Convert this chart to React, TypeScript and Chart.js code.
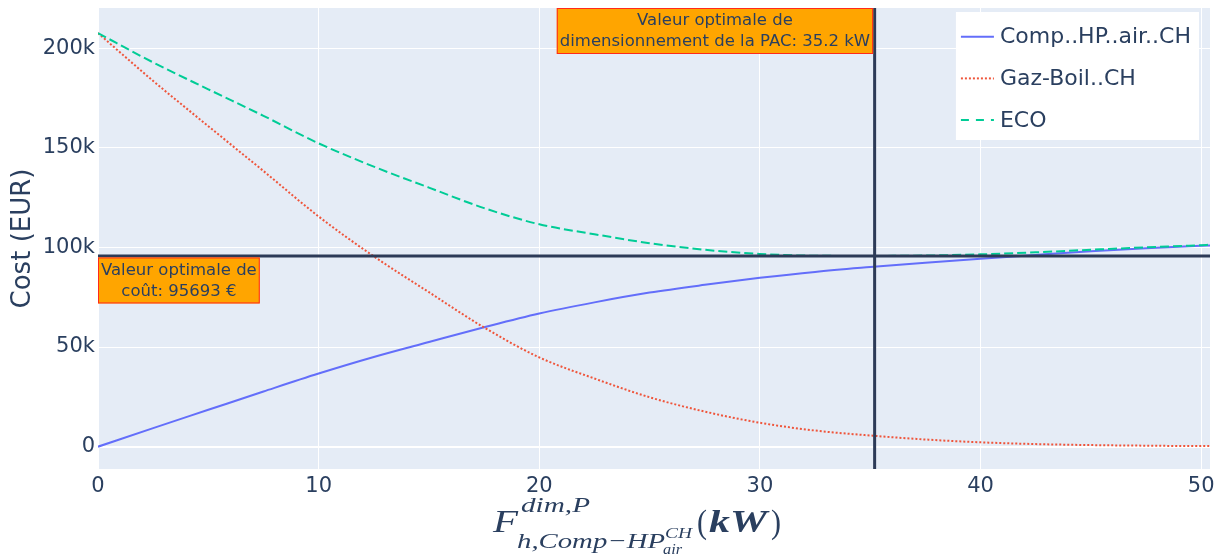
import React, { useEffect, useRef } from 'react';
import { Chart, registerables } from 'chart.js';

Chart.register(...registerables);

// ---- data ----
const xValues = [0, 2.5, 5, 7.5, 10, 12.5, 15, 17.5, 20, 22.5, 25, 27.5, 30, 32.5, 35, 37.5, 40, 42.5, 45, 47.5, 50, 50.4];
const compHP = [0, 9300, 18500, 27700, 36700, 45000, 52500, 59900, 66800, 72400, 77300, 81200, 84700, 87700, 90100, 92300, 94300, 96200, 98000, 99500, 100800, 101000];
const gazBoil = [207500, 183500, 160800, 138300, 115500, 95500, 77500, 59800, 44800, 34200, 24800, 17600, 12000, 8100, 5600, 3600, 2200, 1300, 800, 500, 300, 300];
const eco = [207500, 192800, 179300, 166000, 152200, 140500, 130000, 119700, 111600, 106600, 102100, 98800, 96700, 95800, 95700, 95900, 96500, 97500, 98800, 100000, 101100, 101300];
const seriesNames = ['Comp..HP..air..CH', 'Gaz-Boil..CH', 'ECO'];
const seriesColors = ['#636efa', '#EF553B', '#00cc96'];
const xTicks = [0, 10, 20, 30, 40, 50];
const yTicks = [0, 50000, 100000, 150000, 200000];
const optimalSize = 35.2;
const optimalCost = 95693;
const sizeNote = ['Valeur optimale de', 'dimensionnement de la PAC: 35.2 kW'];
const costNote = ['Valeur optimale de', 'coût: 95693 €'];

const TEXT = '#2a3f5f';
const SHAPE = '#2c3a57';
const SANS = '"DejaVu Sans", Verdana, sans-serif';
const SERIF = '"Liberation Serif", "DejaVu Serif", serif';

function drawNote(ctx: CanvasRenderingContext2D, lines: string[], x: number, y: number, anchorRight: boolean) {
  ctx.save();
  ctx.font = `16.5px ${SANS}`;
  const lh = 21;
  const pad = 2;
  const tw = Math.max(...lines.map((l) => ctx.measureText(l).width));
  const w = tw + pad * 2 + 2;
  const h = lines.length * lh + pad * 2;
  const left = anchorRight ? x - w : x;
  ctx.fillStyle = '#FFA500';
  ctx.fillRect(left, y, w, h);
  ctx.strokeStyle = '#ff2a1a';
  ctx.lineWidth = 1;
  ctx.strokeRect(left + 0.5, y + 0.5, w - 1, h - 1);
  ctx.fillStyle = TEXT;
  ctx.textAlign = 'center';
  ctx.textBaseline = 'middle';
  lines.forEach((l, i) => ctx.fillText(l, left + w / 2, y + pad + lh * i + lh / 2 + 0.5));
  ctx.restore();
}

function drawFitted(ctx: CanvasRenderingContext2D, t: string, x: number, w: number, base: number, font: string) {
  ctx.save();
  ctx.font = font;
  const m = ctx.measureText(t).width;
  ctx.translate(x, base);
  ctx.scale(w / m, 1);
  ctx.fillText(t, 0, 0);
  ctx.restore();
}

const overlayPlugin = {
  id: 'overlay',
  beforeDraw(chart: any) {
    const { ctx, chartArea: a } = chart;
    ctx.save();
    ctx.fillStyle = '#E5ECF6';
    ctx.fillRect(a.left, a.top, a.right - a.left, a.bottom - a.top);
    ctx.restore();
  },
  afterDatasetsDraw(chart: any) {
    const { ctx, chartArea: a, scales } = chart;
    const xp = scales.x.getPixelForValue(optimalSize);
    const yp = scales.y.getPixelForValue(optimalCost);
    ctx.save();
    ctx.strokeStyle = SHAPE;
    ctx.lineWidth = 3;
    ctx.beginPath();
    ctx.moveTo(xp, a.top);
    ctx.lineTo(xp, a.bottom);
    ctx.moveTo(a.left, yp);
    ctx.lineTo(a.right, yp);
    ctx.stroke();
    ctx.restore();

    drawNote(ctx, sizeNote, xp - 1.5, a.top, true);
    drawNote(ctx, costNote, a.left, yp + 1.5, false);

    // legend
    ctx.save();
    ctx.font = `22px ${SANS}`;
    const tw = Math.max(...seriesNames.map((s) => ctx.measureText(s).width));
    const bw = 44 + tw + 8;
    const bx = a.right - 11 - bw;
    const by = a.top + 4;
    ctx.fillStyle = '#ffffff';
    ctx.fillRect(bx, by, bw, 128);
    const dashes = [[], [2, 2], [8, 7]];
    seriesNames.forEach((s, i) => {
      const cy = by + 24.7 + i * 41.7;
      ctx.strokeStyle = seriesColors[i];
      ctx.lineWidth = 2;
      ctx.setLineDash(dashes[i]);
      ctx.beginPath();
      ctx.moveTo(bx + 5, cy);
      ctx.lineTo(bx + 38, cy);
      ctx.stroke();
      ctx.setLineDash([]);
      ctx.fillStyle = TEXT;
      ctx.textAlign = 'left';
      ctx.textBaseline = 'middle';
      ctx.fillText(s, bx + 44, cy + 1);
    });
    ctx.restore();
  },
  afterDraw(chart: any) {
    const { ctx } = chart;
    ctx.save();
    ctx.fillStyle = TEXT;
    ctx.textBaseline = 'alphabetic';
    drawFitted(ctx, 'F', 493, 25, 531.7, `italic 32px ${SERIF}`);
    drawFitted(ctx, 'dim,P', 521, 69, 511.7, `italic 22px ${SERIF}`);
    drawFitted(ctx, 'h,Comp\u2212HP', 517, 148, 547.7, `italic 22px ${SERIF}`);
    drawFitted(ctx, 'CH', 665, 27, 537.7, `italic 15px ${SERIF}`);
    drawFitted(ctx, 'air', 663, 19, 553.5, `italic 15px ${SERIF}`);
    drawFitted(ctx, '(', 697, 10, 533, `33px ${SERIF}`);
    drawFitted(ctx, 'kW', 709, 58, 531.7, `italic bold 31px ${SERIF}`);
    drawFitted(ctx, ')', 771, 10, 533, `33px ${SERIF}`);
    ctx.restore();
  },
};

export default function App() {
  const ref = useRef<HTMLCanvasElement>(null);
  useEffect(() => {
    if (!ref.current) return;
    const mk = (vals: number[]) => xValues.map((x, i) => ({ x, y: vals[i] }));
    const chart = new Chart(ref.current, {
      type: 'line',
      data: {
        datasets: [
          { label: seriesNames[0], data: mk(compHP), borderColor: seriesColors[0], borderWidth: 2, pointRadius: 0, cubicInterpolationMode: 'monotone', order: 3 },
          { label: seriesNames[1], data: mk(gazBoil), borderColor: seriesColors[1], borderWidth: 2, borderDash: [2, 2], pointRadius: 0, cubicInterpolationMode: 'monotone', order: 2 },
          { label: seriesNames[2], data: mk(eco), borderColor: seriesColors[2], borderWidth: 2, borderDash: [9, 4], pointRadius: 0, cubicInterpolationMode: 'monotone', order: 1 },
        ],
      },
      options: {
        responsive: false,
        animation: false,
        devicePixelRatio: 1,
        layout: { padding: { top: 8, right: 15, left: 0, bottom: 0 } },
        plugins: { legend: { display: false }, tooltip: { enabled: false } },
        scales: {
          x: {
            type: 'linear',
            min: 0,
            max: 50.4,
            afterBuildTicks: (s: any) => { s.ticks = xTicks.map((v) => ({ value: v })); },
            afterFit: (s: any) => { s.height = 86; s.paddingLeft = 0; s.paddingRight = 0; },
            ticks: { color: TEXT, font: { family: SANS, size: 21 }, padding: 5, maxRotation: 0, callback: (v: any) => String(v) },
            grid: { color: '#ffffff', lineWidth: 1, drawTicks: false },
            border: { display: false },
          },
          y: {
            type: 'linear',
            min: -11200,
            max: 220100,
            afterBuildTicks: (s: any) => { s.ticks = yTicks.map((v) => ({ value: v })); },
            afterFit: (s: any) => { s.width = 98; s.paddingTop = 0; s.paddingBottom = 0; },
            ticks: { color: TEXT, font: { family: SANS, size: 21 }, padding: 3, callback: (v: any) => (v === 0 ? '0' : `${v / 1000}k`) },
            grid: { color: '#ffffff', lineWidth: (c: any) => (c.tick && c.tick.value === 0 ? 2 : 1), drawTicks: false },
            border: { display: false },
            title: { display: true, text: 'Cost (EUR)', color: TEXT, font: { family: SANS, size: 26, weight: 'normal' }, padding: { top: 8, bottom: 0 } },
          },
        },
      },
      plugins: [overlayPlugin],
    } as any);
    return () => chart.destroy();
  }, []);
  return (
    <div style={{ position: 'absolute', left: 0, top: 0, width: 1225, height: 555, background: '#ffffff' }}>
      <canvas ref={ref} width={1225} height={555} style={{ display: 'block' }} />
    </div>
  );
}
